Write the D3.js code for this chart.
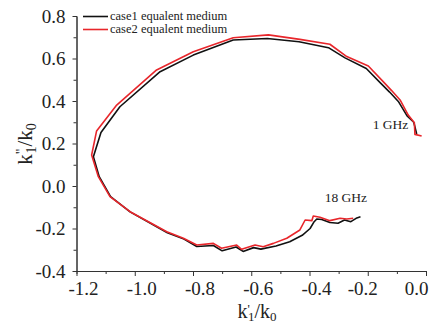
<!DOCTYPE html>
<html><head><meta charset="utf-8">
<script src="https://cdn.jsdelivr.net/npm/d3@7"></script>
<style>
html,body{margin:0;padding:0;background:#fff;}
svg{display:block;font-family:"Liberation Serif","Times New Roman",serif;}
</style></head>
<body><svg id="c" width="433" height="324"></svg>
<script>
// Data
const case1X = [-0.032,-0.042,-0.065,-0.095,-0.125,-0.155,-0.205,-0.278,-0.335,-0.436,-0.545,-0.662,-0.799,-0.913,-1.051,-1.116,-1.142,-1.122,-1.083,-1.016,-0.888,-0.831,-0.787,-0.730,-0.700,-0.652,-0.628,-0.592,-0.567,-0.515,-0.468,-0.425,-0.398,-0.384,-0.375,-0.358,-0.330,-0.302,-0.280,-0.258,-0.240,-0.225];
const case1Y = [0.245,0.300,0.330,0.398,0.442,0.483,0.553,0.603,0.651,0.679,0.694,0.687,0.616,0.538,0.373,0.252,0.138,0.044,-0.050,-0.122,-0.220,-0.250,-0.285,-0.280,-0.305,-0.287,-0.308,-0.290,-0.297,-0.282,-0.262,-0.232,-0.200,-0.168,-0.155,-0.158,-0.172,-0.175,-0.160,-0.168,-0.152,-0.145];
const case2X = [-0.015,-0.038,-0.040,-0.061,-0.089,-0.118,-0.147,-0.198,-0.272,-0.330,-0.433,-0.541,-0.662,-0.799,-0.925,-1.062,-1.131,-1.148,-1.125,-1.085,-1.016,-0.890,-0.833,-0.787,-0.730,-0.702,-0.650,-0.633,-0.587,-0.559,-0.524,-0.478,-0.433,-0.415,-0.392,-0.387,-0.364,-0.330,-0.295,-0.272,-0.250];
const case2Y = [0.235,0.243,0.298,0.334,0.405,0.449,0.491,0.565,0.609,0.667,0.690,0.711,0.698,0.632,0.546,0.381,0.259,0.146,0.044,-0.050,-0.121,-0.215,-0.246,-0.278,-0.270,-0.293,-0.278,-0.298,-0.278,-0.286,-0.270,-0.246,-0.207,-0.160,-0.163,-0.141,-0.147,-0.163,-0.152,-0.155,-0.152];
const seriesNames = ["case1 equalent medium","case2 equalent medium"];
const xTicks = [-1.2,-1.0,-0.8,-0.6,-0.4,-0.2,0.0];
const yTicks = [-0.4,-0.2,0.0,0.2,0.4,0.6,0.8];
const xMinor = [-1.1,-0.9,-0.7,-0.5,-0.3,-0.1];
const yMinor = [-0.3,-0.1,0.1,0.3,0.5,0.7];
const notes = [{text:"1 GHz", x:-0.122, y:0.268},{text:"18 GHz", x:-0.275, y:-0.075}];

const svg = d3.select("#c");
const x = d3.scaleLinear().domain([-1.2,0]).range([76.5,426]);
const y = d3.scaleLinear().domain([-0.4,0.8]).range([271,16]);
const axisColor = "#333";
const serif = "'Liberation Serif','Times New Roman',serif";
const fmt = d => d3.format(".1f")(d).replace("−","-");

const gx = svg.append("g").attr("transform","translate(0,271)");
gx.call(d3.axisBottom(x).tickValues(xMinor).tickSize(3).tickFormat(""));
const gxM = svg.append("g").attr("transform","translate(0,271)");
gxM.call(d3.axisBottom(x).tickValues(xTicks).tickSize(5).tickSizeOuter(0).tickPadding(6).tickFormat(fmt));
gxM.selectAll("text").attr("dx", d => d === 0 ? -10 : (Math.abs(d+0.2) < 1e-9 ? -5.5 : 6.5));

const gy = svg.append("g").attr("transform","translate(76.5,0)");
gy.call(d3.axisLeft(y).tickValues(yMinor).tickSize(3).tickFormat(""));
const gyM = svg.append("g").attr("transform","translate(76.5,0)");
gyM.call(d3.axisLeft(y).tickValues(yTicks).tickSize(4).tickSizeOuter(0).tickPadding(7).tickFormat(fmt));

[gx,gxM,gy,gyM].forEach(g => g.attr("font-family", serif).attr("font-size", 19));
svg.selectAll(".domain").attr("stroke",axisColor).attr("stroke-width",1);
svg.selectAll(".tick line").attr("stroke",axisColor).attr("stroke-width",1);
svg.selectAll(".tick text").attr("fill","#222");

// curves
const line = d3.line().x(d => x(d[0])).y(d => y(d[1]));
const s1 = case1X.map((v,i)=>[v,case1Y[i]]);
const s2 = case2X.map((v,i)=>[v,case2Y[i]]);
const colors = ["#111111","#e8262b"];
svg.append("path").datum(s1).attr("d",line).attr("fill","none").attr("stroke",colors[0]).attr("stroke-width",1.6).attr("stroke-linejoin","round");
svg.append("path").datum(s2).attr("d",line).attr("fill","none").attr("stroke",colors[1]).attr("stroke-width",1.6).attr("stroke-linejoin","round");

// legend
const lg = svg.append("g").attr("font-family", serif);
seriesNames.forEach((n,i)=>{
  const yy = 16.5 + i*13;
  lg.append("line").attr("x1",83).attr("x2",108).attr("y1",yy).attr("y2",yy)
    .attr("stroke",colors[i]).attr("stroke-width",1.6);
  lg.append("text").attr("x",110).attr("y",yy+3.5).text(n)
    .attr("font-size",12.5).attr("fill","#222");
});

// annotations
notes.forEach(n=>{
  svg.append("text").attr("x",x(n.x)).attr("y",y(n.y)).attr("text-anchor","middle")
    .attr("font-family", serif).attr("font-size",13.5).attr("fill","#222").text(n.text);
});

// axis titles
const xt = svg.append("text").attr("x",257).attr("y",318).attr("text-anchor","middle")
  .attr("font-family", serif).attr("font-size",20).attr("fill","#222");
xt.append("tspan").text("k");
xt.append("tspan").attr("dy",-5).attr("font-size",13).text("'");
xt.append("tspan").attr("dx",-2).attr("dy",8).attr("font-size",13).text("1");
xt.append("tspan").attr("dy",-3).text("/k");
xt.append("tspan").attr("dy",3).attr("font-size",13).text("0");

const yt = svg.append("text").attr("transform","translate(32,144) rotate(-90)")
  .attr("text-anchor","middle").attr("font-family", serif).attr("font-size",21).attr("fill","#222");
yt.append("tspan").text("k");
yt.append("tspan").attr("dy",-6).attr("font-size",14).text("\"");
yt.append("tspan").attr("dx",-5).attr("dy",10).attr("font-size",14).text("1");
yt.append("tspan").attr("dy",-4).text("/k");
yt.append("tspan").attr("dy",4).attr("font-size",14).text("0");
</script>
</body></html>
